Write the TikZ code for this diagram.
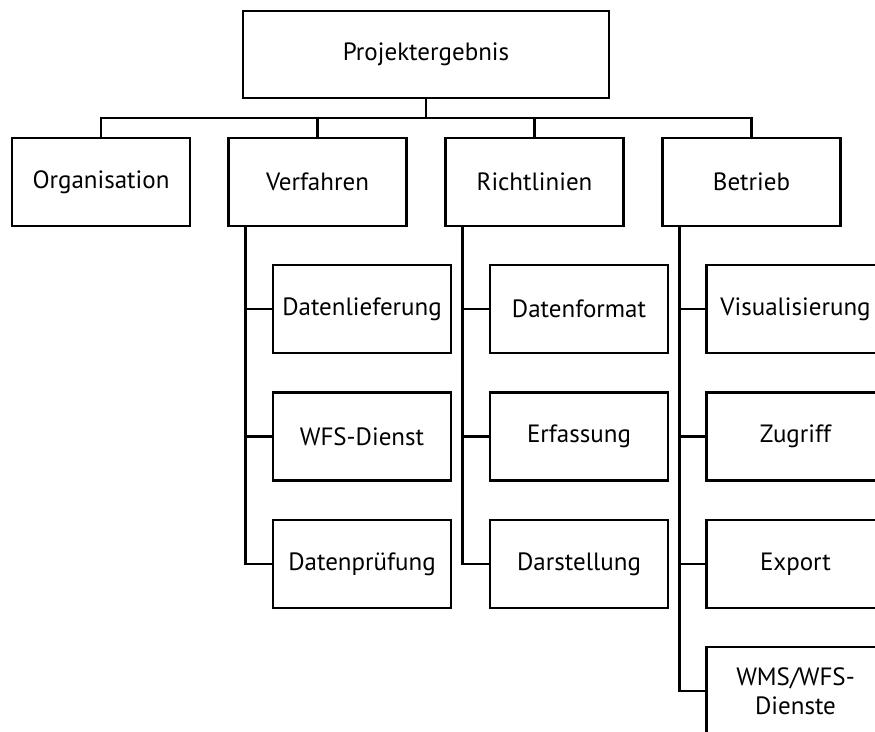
\documentclass[tikz,border=0pt]{standalone}
\usepackage{fontspec}
\setmainfont{PT Sans}
\usepackage{tikz}
\usetikzlibrary{positioning, calc}

\begin{document}
\begin{tikzpicture}[
    x=1pt, y=-1pt,
    box/.style={draw, line width=2.2pt, minimum width=178pt, minimum height=88pt, inner sep=0pt, font=\fontsize{25}{29}\selectfont, align=center},
    link/.style={draw, line width=2.2pt}
]
    \useasboundingbox (0,0) rectangle (875,731);
    \begin{scope}
    \clip (0,0) rectangle (875,731);

    % Root
    \node[box, minimum width=366pt, minimum height=87pt] (root) at (426, 54.5) {Projektergebnis};

    % First level
    \node[box] (org) at (101, 182) {Organisation};
    \node[box] (verf) at (317.5, 182) {Verfahren};
    \node[box] (richt) at (534.5, 182) {Richtlinien};
    \node[box] (betr) at (751.5, 182) {Betrieb};

    % Second level (Verfahren)
    \node[box] (dlief) at (362, 309) {Datenlieferung};
    \node[box] (wfs) at (362, 436.5) {WFS-Dienst};
    \node[box] (dpruef) at (362, 564) {Datenprüfung};

    % Second level (Richtlinien)
    \node[box] (dform) at (579, 309) {Datenformat};
    \node[box] (erf) at (579, 436.5) {Erfassung};
    \node[box] (darst) at (579, 564) {Darstellung};

    % Second level (Betrieb)
    \node[box] (vis) at (795.5, 309) {Visualisierung};
    \node[box] (zug) at (795.5, 436.5) {Zugriff};
    \node[box] (exp) at (795.5, 564) {Export};
    \node[box] (wms) at (795.5, 691) {WMS/WFS-\\Dienste};

    % Root to first level
    \foreach \n in {org, verf, richt, betr}
        \draw[link] (root.south) -- ++(0,19) -| (\n.north);

    % First level to second level
    \foreach \n in {dlief, wfs, dpruef}
        \draw[link] ([xshift=18pt]verf.south west) |- (\n.west);
    \foreach \n in {dform, erf, darst}
        \draw[link] ([xshift=18pt]richt.south west) |- (\n.west);
    \foreach \n in {vis, zug, exp, wms}
        \draw[link] ([xshift=18pt]betr.south west) |- (\n.west);
    \end{scope}
\end{tikzpicture}
\end{document}
